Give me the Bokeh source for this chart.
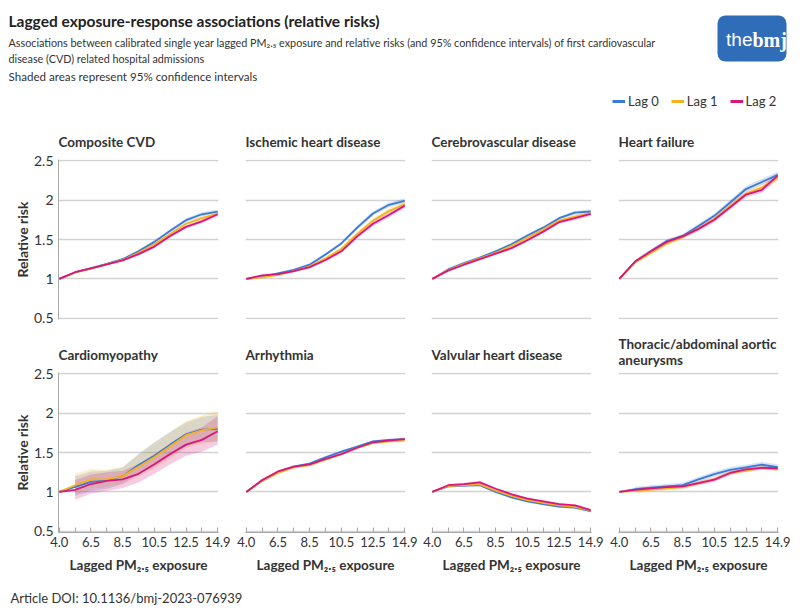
from bokeh.plotting import figure
from bokeh.models import (Range1d, FixedTicker, Title, Legend, LegendItem,
                          BoxAnnotation)
from bokeh.layouts import column, row
from bokeh.embed import file_html
from bokeh.resources import INLINE
from bokeh.core.properties import value

FONT = "Lato"

# ---------------- data ----------------
X_POS = [0, 1, 2, 3, 4, 5, 6, 7, 8, 9, 10]
X_LABELS = ["4.0", "", "6.5", "", "8.5", "", "10.5", "", "12.5", "", "14.9"]
Y_TICKS = [0.5, 1, 1.5, 2, 2.5]
Y_LABELS = ["0.5", "1", "1.5", "2", "2.5"]
LAG_NAMES = ["Lag 0", "Lag 1", "Lag 2"]
LAG_COLORS = ["#3a7bd5", "#f5b21b", "#d9157f"]

PANEL_TITLES = ["Composite CVD", "Ischemic heart disease", "Cerebrovascular disease",
                "Heart failure", "Cardiomyopathy", "Arrhythmia",
                "Valvular heart disease", "Thoracic/abdominal aortic\naneurysms"]

# Composite CVD
CVD_L0 = [1.00, 1.085, 1.135, 1.19, 1.25, 1.35, 1.47, 1.61, 1.745, 1.82, 1.855]
CVD_L0_LO = [1.00, 1.075, 1.12, 1.175, 1.235, 1.33, 1.45, 1.59, 1.72, 1.795, 1.83]
CVD_L0_HI = [1.00, 1.095, 1.15, 1.205, 1.265, 1.37, 1.49, 1.63, 1.77, 1.845, 1.88]
CVD_L1 = [1.00, 1.08, 1.13, 1.185, 1.24, 1.33, 1.44, 1.57, 1.70, 1.77, 1.825]
CVD_L1_LO = [1.00, 1.07, 1.115, 1.17, 1.225, 1.31, 1.42, 1.55, 1.68, 1.745, 1.80]
CVD_L1_HI = [1.00, 1.09, 1.145, 1.20, 1.255, 1.35, 1.46, 1.59, 1.72, 1.795, 1.85]
CVD_L2 = [1.00, 1.085, 1.135, 1.185, 1.235, 1.315, 1.41, 1.545, 1.66, 1.73, 1.82]
CVD_L2_LO = [1.00, 1.075, 1.12, 1.17, 1.22, 1.295, 1.39, 1.525, 1.64, 1.705, 1.795]
CVD_L2_HI = [1.00, 1.095, 1.15, 1.20, 1.25, 1.335, 1.43, 1.565, 1.68, 1.755, 1.845]

# Ischemic heart disease
IHD_L0 = [1.00, 1.025, 1.07, 1.115, 1.18, 1.31, 1.45, 1.65, 1.83, 1.94, 1.99]
IHD_L0_LO = [1.00, 1.01, 1.055, 1.10, 1.16, 1.29, 1.43, 1.62, 1.80, 1.91, 1.96]
IHD_L0_HI = [1.00, 1.04, 1.085, 1.13, 1.20, 1.33, 1.47, 1.68, 1.86, 1.97, 2.02]
IHD_L1 = [1.00, 1.02, 1.05, 1.10, 1.16, 1.26, 1.38, 1.57, 1.74, 1.86, 1.95]
IHD_L1_LO = [1.00, 1.005, 1.035, 1.085, 1.14, 1.24, 1.36, 1.545, 1.71, 1.83, 1.92]
IHD_L1_HI = [1.00, 1.035, 1.065, 1.115, 1.18, 1.28, 1.40, 1.595, 1.77, 1.89, 1.98]
IHD_L2 = [1.00, 1.045, 1.06, 1.10, 1.15, 1.24, 1.35, 1.54, 1.70, 1.81, 1.93]
IHD_L2_LO = [1.00, 1.03, 1.045, 1.085, 1.13, 1.22, 1.33, 1.515, 1.67, 1.78, 1.90]
IHD_L2_HI = [1.00, 1.06, 1.075, 1.115, 1.17, 1.26, 1.37, 1.565, 1.73, 1.84, 1.96]

# Cerebrovascular disease
CBV_L0 = [1.00, 1.12, 1.20, 1.27, 1.35, 1.44, 1.55, 1.65, 1.77, 1.84, 1.855]
CBV_L0_LO = [1.00, 1.105, 1.185, 1.255, 1.335, 1.42, 1.53, 1.63, 1.75, 1.815, 1.83]
CBV_L0_HI = [1.00, 1.135, 1.215, 1.285, 1.365, 1.46, 1.57, 1.67, 1.79, 1.865, 1.88]
CBV_L1 = [1.00, 1.11, 1.19, 1.26, 1.33, 1.42, 1.52, 1.63, 1.74, 1.79, 1.83]
CBV_L1_LO = [1.00, 1.095, 1.175, 1.245, 1.315, 1.40, 1.50, 1.61, 1.72, 1.765, 1.805]
CBV_L1_HI = [1.00, 1.125, 1.205, 1.275, 1.345, 1.44, 1.54, 1.65, 1.76, 1.815, 1.855]
CBV_L2 = [1.00, 1.105, 1.18, 1.25, 1.32, 1.39, 1.49, 1.60, 1.72, 1.77, 1.825]
CBV_L2_LO = [1.00, 1.09, 1.165, 1.235, 1.305, 1.37, 1.47, 1.58, 1.70, 1.745, 1.80]
CBV_L2_HI = [1.00, 1.12, 1.195, 1.265, 1.335, 1.41, 1.51, 1.62, 1.74, 1.795, 1.85]

# Heart failure
HF_L0 = [1.00, 1.22, 1.35, 1.48, 1.545, 1.67, 1.80, 1.97, 2.14, 2.23, 2.32]
HF_L0_LO = [1.00, 1.20, 1.325, 1.455, 1.52, 1.64, 1.77, 1.94, 2.10, 2.19, 2.28]
HF_L0_HI = [1.00, 1.24, 1.375, 1.505, 1.57, 1.70, 1.83, 2.00, 2.18, 2.27, 2.36]
HF_L1 = [1.00, 1.21, 1.33, 1.45, 1.53, 1.64, 1.76, 1.93, 2.08, 2.16, 2.28]
HF_L1_LO = [1.00, 1.19, 1.305, 1.425, 1.505, 1.61, 1.73, 1.90, 2.05, 2.12, 2.24]
HF_L1_HI = [1.00, 1.23, 1.355, 1.475, 1.555, 1.67, 1.79, 1.96, 2.11, 2.20, 2.32]
HF_L2 = [1.00, 1.22, 1.35, 1.47, 1.54, 1.635, 1.75, 1.91, 2.07, 2.13, 2.31]
HF_L2_LO = [1.00, 1.20, 1.325, 1.445, 1.515, 1.605, 1.72, 1.88, 2.04, 2.09, 2.27]
HF_L2_HI = [1.00, 1.24, 1.375, 1.495, 1.565, 1.665, 1.78, 1.94, 2.10, 2.17, 2.35]

# Cardiomyopathy
CMP_L0 = [1.00, 1.064, 1.127, 1.15, 1.20, 1.34, 1.46, 1.60, 1.73, 1.79, 1.80]
CMP_L0_LO = [1.00, 0.95, 1.01, 1.04, 1.10, 1.22, 1.32, 1.45, 1.58, 1.63, 1.64]
CMP_L0_HI = [1.00, 1.20, 1.26, 1.27, 1.31, 1.48, 1.63, 1.76, 1.88, 1.95, 1.98]
CMP_L1 = [1.00, 1.085, 1.16, 1.16, 1.20, 1.32, 1.44, 1.58, 1.72, 1.78, 1.82]
CMP_L1_LO = [1.00, 0.97, 1.04, 1.06, 1.10, 1.20, 1.29, 1.42, 1.56, 1.61, 1.64]
CMP_L1_HI = [1.00, 1.23, 1.29, 1.28, 1.32, 1.47, 1.62, 1.76, 1.90, 1.97, 2.03]
CMP_L2 = [1.00, 1.025, 1.10, 1.14, 1.16, 1.23, 1.35, 1.48, 1.60, 1.66, 1.77]
CMP_L2_LO = [1.00, 0.90, 0.98, 1.01, 1.05, 1.12, 1.23, 1.35, 1.46, 1.51, 1.60]
CMP_L2_HI = [1.00, 1.15, 1.22, 1.25, 1.27, 1.35, 1.48, 1.61, 1.75, 1.82, 1.96]

# Arrhythmia
ARR_L0 = [1.00, 1.14, 1.25, 1.32, 1.36, 1.44, 1.51, 1.575, 1.64, 1.66, 1.67]
ARR_L0_LO = [1.00, 1.125, 1.235, 1.305, 1.345, 1.425, 1.495, 1.56, 1.625, 1.645, 1.65]
ARR_L0_HI = [1.00, 1.155, 1.265, 1.335, 1.375, 1.455, 1.525, 1.59, 1.655, 1.675, 1.69]
ARR_L1 = [1.00, 1.14, 1.24, 1.31, 1.34, 1.41, 1.48, 1.56, 1.62, 1.64, 1.65]
ARR_L1_LO = [1.00, 1.125, 1.225, 1.295, 1.325, 1.395, 1.465, 1.545, 1.605, 1.625, 1.63]
ARR_L1_HI = [1.00, 1.155, 1.255, 1.325, 1.355, 1.425, 1.495, 1.575, 1.635, 1.655, 1.67]
ARR_L2 = [1.00, 1.15, 1.26, 1.32, 1.35, 1.42, 1.48, 1.56, 1.63, 1.65, 1.67]
ARR_L2_LO = [1.00, 1.135, 1.245, 1.305, 1.335, 1.405, 1.465, 1.545, 1.615, 1.635, 1.65]
ARR_L2_HI = [1.00, 1.165, 1.275, 1.335, 1.365, 1.435, 1.495, 1.575, 1.645, 1.665, 1.69]

# Valvular heart disease
VHD_L0 = [1.00, 1.07, 1.08, 1.085, 1.00, 0.93, 0.88, 0.845, 0.815, 0.80, 0.755]
VHD_L0_LO = [1.00, 1.055, 1.065, 1.07, 0.985, 0.915, 0.865, 0.83, 0.80, 0.785, 0.74]
VHD_L0_HI = [1.00, 1.085, 1.095, 1.10, 1.015, 0.945, 0.895, 0.86, 0.83, 0.815, 0.77]
VHD_L1 = [1.00, 1.075, 1.085, 1.095, 1.015, 0.95, 0.895, 0.86, 0.83, 0.81, 0.765]
VHD_L1_LO = [1.00, 1.06, 1.07, 1.08, 1.00, 0.935, 0.88, 0.845, 0.815, 0.795, 0.75]
VHD_L1_HI = [1.00, 1.09, 1.10, 1.11, 1.03, 0.965, 0.91, 0.875, 0.845, 0.825, 0.78]
VHD_L2 = [1.00, 1.085, 1.10, 1.12, 1.04, 0.97, 0.915, 0.88, 0.845, 0.83, 0.77]
VHD_L2_LO = [1.00, 1.07, 1.085, 1.10, 1.025, 0.955, 0.90, 0.865, 0.83, 0.815, 0.755]
VHD_L2_HI = [1.00, 1.10, 1.115, 1.14, 1.055, 0.985, 0.93, 0.895, 0.86, 0.845, 0.785]

# Thoracic/abdominal aortic aneurysms
TAA_L0 = [1.00, 1.035, 1.055, 1.07, 1.085, 1.16, 1.225, 1.28, 1.31, 1.345, 1.315]
TAA_L0_LO = [1.00, 1.005, 1.025, 1.04, 1.055, 1.13, 1.19, 1.245, 1.275, 1.31, 1.28]
TAA_L0_HI = [1.00, 1.065, 1.085, 1.10, 1.115, 1.19, 1.26, 1.315, 1.345, 1.38, 1.35]
TAA_L1 = [1.00, 1.01, 1.03, 1.045, 1.06, 1.11, 1.16, 1.24, 1.27, 1.305, 1.285]
TAA_L1_LO = [1.00, 0.985, 1.005, 1.02, 1.035, 1.085, 1.135, 1.215, 1.245, 1.28, 1.26]
TAA_L1_HI = [1.00, 1.035, 1.055, 1.07, 1.085, 1.135, 1.185, 1.265, 1.295, 1.33, 1.31]
TAA_L2 = [1.00, 1.025, 1.045, 1.06, 1.07, 1.11, 1.155, 1.24, 1.285, 1.305, 1.30]
TAA_L2_LO = [1.00, 1.00, 1.02, 1.035, 1.045, 1.085, 1.13, 1.215, 1.26, 1.28, 1.275]
TAA_L2_HI = [1.00, 1.05, 1.07, 1.085, 1.095, 1.135, 1.18, 1.265, 1.31, 1.33, 1.325]

PANELS = [
    ([CVD_L0, CVD_L1, CVD_L2], [CVD_L0_LO, CVD_L1_LO, CVD_L2_LO], [CVD_L0_HI, CVD_L1_HI, CVD_L2_HI]),
    ([IHD_L0, IHD_L1, IHD_L2], [IHD_L0_LO, IHD_L1_LO, IHD_L2_LO], [IHD_L0_HI, IHD_L1_HI, IHD_L2_HI]),
    ([CBV_L0, CBV_L1, CBV_L2], [CBV_L0_LO, CBV_L1_LO, CBV_L2_LO], [CBV_L0_HI, CBV_L1_HI, CBV_L2_HI]),
    ([HF_L0, HF_L1, HF_L2], [HF_L0_LO, HF_L1_LO, HF_L2_LO], [HF_L0_HI, HF_L1_HI, HF_L2_HI]),
    ([CMP_L0, CMP_L1, CMP_L2], [CMP_L0_LO, CMP_L1_LO, CMP_L2_LO], [CMP_L0_HI, CMP_L1_HI, CMP_L2_HI]),
    ([ARR_L0, ARR_L1, ARR_L2], [ARR_L0_LO, ARR_L1_LO, ARR_L2_LO], [ARR_L0_HI, ARR_L1_HI, ARR_L2_HI]),
    ([VHD_L0, VHD_L1, VHD_L2], [VHD_L0_LO, VHD_L1_LO, VHD_L2_LO], [VHD_L0_HI, VHD_L1_HI, VHD_L2_HI]),
    ([TAA_L0, TAA_L1, TAA_L2], [TAA_L0_LO, TAA_L1_LO, TAA_L2_LO], [TAA_L0_HI, TAA_L1_HI, TAA_L2_HI]),
]

TITLE = "Lagged exposure-response associations (relative risks)"
SUBTITLE_1 = ("Associations between calibrated single year lagged PM\u2082.\u2085 exposure and relative risks "
              "(and 95% confidence intervals) of first cardiovascular")
SUBTITLE_2 = "disease (CVD) related hospital admissions"
NOTE = "Shaded areas represent 95% confidence intervals"
X_TITLE = "Lagged PM\u2082.\u2085 exposure"
Y_TITLE = "Relative risk"
DOI = "Article DOI: 10.1136/bmj-2023-076939"

TEXT_DARK = "#333333"
GRID = "#d2d2d2"
AXIS = "#a8a8a8"

# column geometry: (width, min_border_left, min_border_right)
COLS = [(231, 58, 13), (187, 14, 13), (186, 13, 13), (196, 14, 22)]


def make_panel(idx):
    r, c = divmod(idx, 4)
    width, bl, br = COLS[c]
    if r == 0:
        height, bt, bb = 206, 39, 7
    else:
        height, bt, bb = 258, 46, 52
    p = figure(width=width, height=height, output_backend="svg", toolbar_location=None,
               x_range=Range1d(-0.05, 10.05), y_range=Range1d(0.485, 2.515),
               min_border_left=bl, min_border_right=br, min_border_top=bt,
               min_border_bottom=bb)
    p.outline_line_color = None
    p.xgrid.visible = False
    p.ygrid.ticker = FixedTicker(ticks=Y_TICKS)
    p.ygrid.grid_line_color = GRID
    p.ygrid.grid_line_width = 1.5

    two_line = "\n" in PANEL_TITLES[idx]
    t = Title(text=PANEL_TITLES[idx], align="left", text_font=FONT, text_font_size="13.5px",
              text_font_style="bold", text_color=TEXT_DARK, standoff=10 if two_line else 20)
    p.add_layout(t, "above")

    xa = p.xaxis[0]
    xa.ticker = FixedTicker(ticks=X_POS)
    xa.major_label_overrides = {x: lab for x, lab in zip(X_POS, X_LABELS)}
    xa.axis_line_color = AXIS
    xa.major_tick_line_color = AXIS
    xa.major_tick_in = 5
    xa.major_tick_out = 0
    xa.minor_tick_line_color = None
    xa.major_label_standoff = 4
    xa.major_label_text_font = FONT
    xa.major_label_text_font_size = "13px"
    xa.major_label_text_color = TEXT_DARK
    xa.axis_label = X_TITLE
    xa.axis_label_text_font = FONT
    xa.axis_label_text_font_size = "13.5px"
    xa.axis_label_text_font_style = "bold"
    xa.axis_label_text_color = TEXT_DARK
    xa.axis_label_standoff = 7
    if r == 0:
        xa.visible = False

    ya = p.yaxis[0]
    ya.ticker = FixedTicker(ticks=Y_TICKS)
    ya.major_label_overrides = {y: lab for y, lab in zip(Y_TICKS, Y_LABELS)}
    ya.axis_line_color = AXIS
    ya.major_tick_line_color = None
    ya.minor_tick_line_color = None
    ya.major_tick_in = 0
    ya.major_tick_out = 0
    ya.major_label_standoff = 5
    ya.major_label_text_font = FONT
    ya.major_label_text_font_size = "14px"
    ya.major_label_text_color = TEXT_DARK
    ya.axis_label = Y_TITLE
    ya.axis_label_text_font = FONT
    ya.axis_label_text_font_size = "14px"
    ya.axis_label_text_font_style = "bold"
    ya.axis_label_text_color = TEXT_DARK
    ya.axis_label_standoff = 0
    if c != 0:
        ya.visible = False

    lines, los, his = PANELS[idx]
    for lo, hi, col in zip(los, his, LAG_COLORS):
        p.varea(x=X_POS[1:], y1=lo[1:], y2=hi[1:], fill_color=col, fill_alpha=0.22)
    for ys, col in zip(lines, LAG_COLORS):
        p.line(x=X_POS, y=ys, line_color=col, line_width=1.8)
    return p


panels = [make_panel(i) for i in range(8)]

# ---------------- header ----------------
HW, HH = 800, 120
hdr = figure(width=HW, height=HH, output_backend="svg", toolbar_location=None,
             x_range=Range1d(0, HW), y_range=Range1d(0, HH), min_border=0)
hdr.axis.visible = False
hdr.grid.visible = False
hdr.outline_line_color = None

hdr.text(x=[8], y=[HH - 20], text=[TITLE], text_font=value(FONT), text_font_size="15.5px",
         text_font_style="bold", text_baseline="middle", text_color="#222222")
hdr.text(x=[8, 8], y=[HH - 42, HH - 58], text=[SUBTITLE_1, SUBTITLE_2], text_font=value(FONT),
         text_font_size="10.8px", text_baseline="middle", text_color=TEXT_DARK)
hdr.text(x=[8], y=[HH - 76], text=[NOTE], text_font=value(FONT),
         text_font_size="11.6px", text_baseline="middle", text_color=TEXT_DARK)

logo = BoxAnnotation(left=717, right=786, top=HH - 15, bottom=HH - 61, fill_color="#2f6db8",
                     fill_alpha=1.0, line_color=None, border_radius=8, level="underlay")
hdr.add_layout(logo)
hdr.text(x=[752], y=[HH - 39], text=["the"], text_font=value("Liberation Sans"),
         text_font_size="19px", text_align="right", text_baseline="middle", text_color="white")
hdr.text(x=[752], y=[HH - 39], text=["bmj"], text_font=value("Liberation Serif"),
         text_font_size="20px", text_font_style="bold", text_align="left",
         text_baseline="middle", text_color="white")

items = []
for name, col in zip(LAG_NAMES, LAG_COLORS):
    rr = hdr.line(x=[-50, -40], y=[-50, -50], line_color=col, line_width=3)
    items.append(LegendItem(label=name, renderers=[rr]))
leg = Legend(items=items, orientation="horizontal", location=(612, 11),
             glyph_width=13, glyph_height=16, label_height=16, label_standoff=3, spacing=12,
             padding=0, margin=0, border_line_color=None, background_fill_alpha=0,
             label_text_font=FONT, label_text_font_size="13px", label_text_color=TEXT_DARK)
hdr.add_layout(leg)

# ---------------- footer ----------------
FH = 30
ftr = figure(width=HW, height=FH, output_backend="svg", toolbar_location=None,
             x_range=Range1d(0, HW), y_range=Range1d(0, FH), min_border=0)
ftr.axis.visible = False
ftr.grid.visible = False
ftr.outline_line_color = None
ftr.text(x=[10], y=[FH - 13], text=[DOI], text_font=value(FONT), text_font_size="13px",
         text_baseline="middle", text_color=TEXT_DARK)

layout = column(hdr, row(*panels[:4]), row(*panels[4:]), ftr)

with open("out.html", "w") as f:
    f.write(file_html(layout, INLINE))
